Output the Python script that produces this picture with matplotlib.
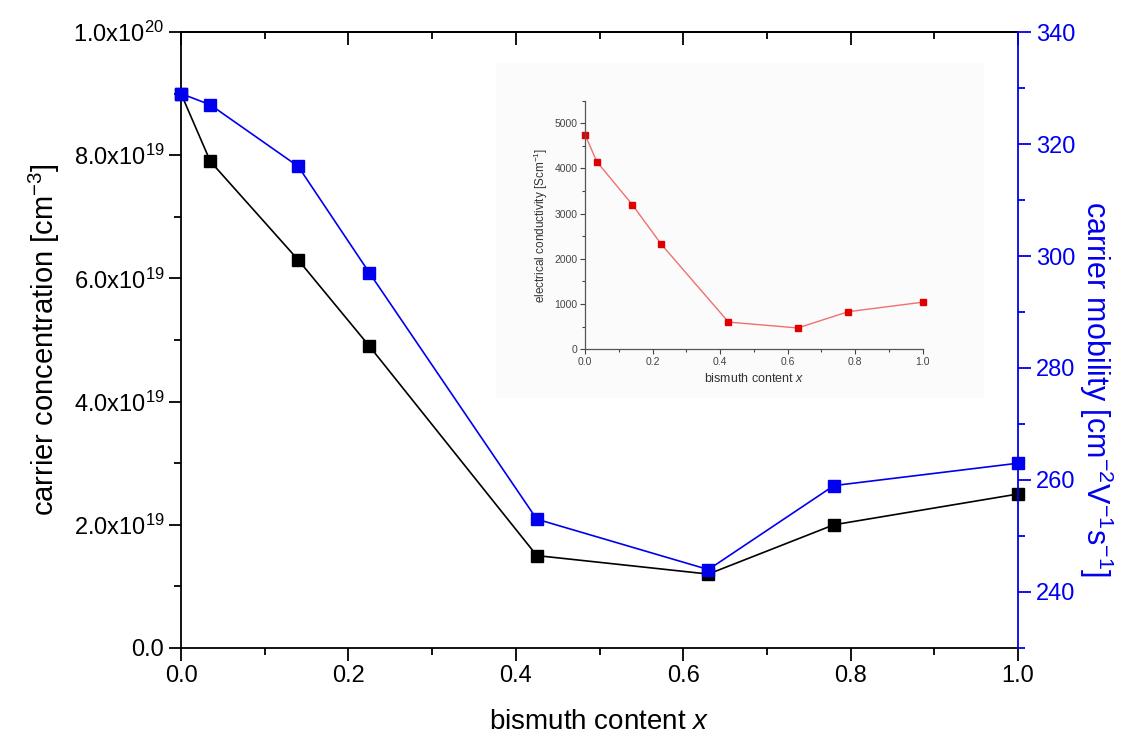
import matplotlib.pyplot as plt
from matplotlib.ticker import MultipleLocator, FuncFormatter
import matplotlib.patches as patches

plt.rcParams['font.family'] = ['Liberation Sans', 'DejaVu Sans']
plt.rcParams['mathtext.fontset'] = 'custom'
plt.rcParams['mathtext.rm'] = 'Liberation Sans'
plt.rcParams['mathtext.it'] = 'Liberation Sans:italic'

# data
bi_x = [0.0, 0.035, 0.14, 0.225, 0.425, 0.63, 0.78, 1.0]
carrier_conc = [9.0e19, 7.9e19, 6.3e19, 4.9e19, 1.5e19, 1.2e19, 2.0e19, 2.5e19]
mobility = [329, 327, 316, 297, 253, 244, 259, 263]
conductivity = [4750, 4150, 3200, 2330, 600, 470, 830, 1040]

blue = '#0000ee'

fig = plt.figure(figsize=(11.35, 7.43), dpi=100)
ax = fig.add_axes([0.1595, 0.1279, 0.7375, 0.829])

ax.plot(bi_x, carrier_conc, color='black', lw=1.2, marker='s', ms=9,
        clip_on=False, zorder=3)
ax.set_xlim(0, 1.0)
ax.set_ylim(0, 1.0e20)
ax.xaxis.set_major_locator(MultipleLocator(0.2))
ax.xaxis.set_minor_locator(MultipleLocator(0.1))
ax.yaxis.set_major_locator(MultipleLocator(2e19))
ax.yaxis.set_minor_locator(MultipleLocator(1e19))


def conc_fmt(v, pos):
    if v == 0:
        return '0.0'
    e = 19 if v < 9.99e19 else 20
    return '%.1fx10$^{%d}$' % (v / 10**e, e)


ax.yaxis.set_major_formatter(FuncFormatter(conc_fmt))
ax.xaxis.set_major_formatter(FuncFormatter(lambda v, p: '%.1f' % v))
ax.tick_params(axis='both', which='major', direction='out', length=9,
               width=1.3, labelsize=17, pad=3)
ax.tick_params(axis='both', which='minor', direction='out', length=5,
               width=1.3)
ax.spines['right'].set_visible(False)
for s in ['left', 'bottom', 'top']:
    ax.spines[s].set_linewidth(1.3)

top = ax.secondary_xaxis('top')
top.xaxis.set_major_locator(MultipleLocator(0.2))
top.xaxis.set_minor_locator(MultipleLocator(0.1))
top.tick_params(which='major', direction='in', length=9, width=1.3,
                labeltop=False)
top.tick_params(which='minor', direction='in', length=5, width=1.3)
top.spines['top'].set_linewidth(1.3)

ax.set_xlabel('bismuth content $\\mathit{x}$', fontsize=20, labelpad=16)
ax.set_ylabel('carrier concentration [cm$^{-3}$]', fontsize=21, labelpad=8)

# faint panel behind the inset
ax.add_patch(patches.Rectangle((0.437, 0.465), 0.43, 0.45,
                               transform=fig.transFigure, clip_on=False,
                               facecolor='#fbfbfb', edgecolor='none',
                               zorder=0.5))

ax2 = ax.twinx()
ax2.plot(bi_x, mobility, color=blue, lw=1.2, marker='s', ms=9,
         clip_on=False, zorder=3)
ax2.set_ylim(230, 340)
ax2.yaxis.set_major_locator(MultipleLocator(20))
ax2.yaxis.set_minor_locator(MultipleLocator(10))
ax2.tick_params(axis='y', which='major', direction='out', length=9,
                width=1.3, labelsize=17, colors=blue, pad=4)
ax2.tick_params(axis='y', which='minor', direction='out', length=5,
                width=1.3, colors=blue)
for s in ['left', 'bottom', 'top']:
    ax2.spines[s].set_visible(False)
ax2.spines['right'].set_color(blue)
ax2.spines['right'].set_linewidth(1.3)
ax2.set_ylabel('carrier mobility [cm$^{-2}$V$^{-1}$s$^{-1}$]', fontsize=22,
               color=blue, rotation=270, va='center')
ax2.yaxis.set_label_coords(1.093, 0.42)

ins = fig.add_axes([0.5154, 0.530, 0.2975, 0.3346])
ins.patch.set_alpha(0)
ins.plot(bi_x, conductivity, color='#f07070', lw=1.0, marker='s', ms=4,
         mfc='#e00000', mec='#e00000', clip_on=False)
ins.set_xlim(0, 1.0)
ins.set_ylim(0, 5500)
ins.xaxis.set_major_locator(MultipleLocator(0.2))
ins.xaxis.set_minor_locator(MultipleLocator(0.1))
ins.yaxis.set_major_locator(MultipleLocator(1000))
ins.yaxis.set_minor_locator(MultipleLocator(500))
ins.xaxis.set_major_formatter(FuncFormatter(lambda v, p: '%.1f' % v))
for s in ['top', 'right']:
    ins.spines[s].set_visible(False)
for s in ['left', 'bottom']:
    ins.spines[s].set_color('#555555')
    ins.spines[s].set_linewidth(0.9)
ins.tick_params(which='major', direction='out', length=3.5, width=0.8,
                labelsize=7.5, colors='#444444', pad=2)
ins.tick_params(which='minor', direction='out', length=2, width=0.8,
                colors='#444444')
ins.set_xlabel('bismuth content $\\mathit{x}$', fontsize=9, color='#333333',
               labelpad=4)
ins.set_ylabel('electrical conductivity [Scm$^{-1}$]', fontsize=8.5,
               color='#333333', labelpad=3)

fig.savefig('out.png', dpi=100, facecolor='white')
